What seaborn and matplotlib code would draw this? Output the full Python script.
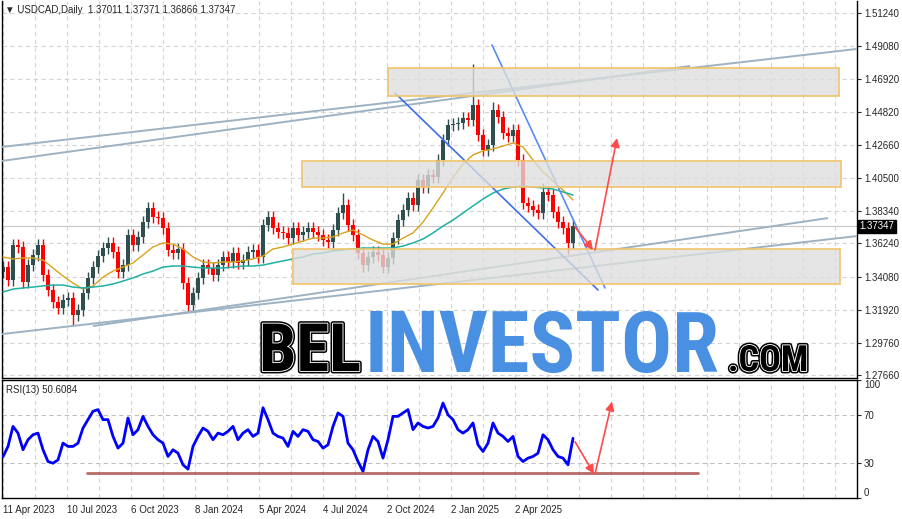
import numpy as np
import seaborn as sns
import matplotlib.pyplot as plt
import matplotlib.patheffects as pe
from matplotlib.patches import Rectangle
from matplotlib.transforms import blended_transform_factory

# chart data
title_text = "▼ USDCAD,Daily  1.37011 1.37371 1.36866 1.37347"
rsi_text = "RSI(13) 50.6084"
last_price = 1.37347

bar_step = 5  # one candle per 5 daily bars
first_open = 1.3440
closes = [
    1.3470, 1.3386, 1.3614, 1.3601, 1.3373, 1.3483, 1.3549, 1.3614, 1.3418, 1.3321,
    1.3243, 1.3204, 1.3256, 1.3269, 1.3158, 1.3191, 1.3301, 1.3399, 1.3470, 1.3542,
    1.3594, 1.3627, 1.3568, 1.3438, 1.3483, 1.3679, 1.3614, 1.3666, 1.3763, 1.3855,
    1.3796, 1.3789, 1.3724, 1.3581, 1.3562, 1.3588, 1.3366, 1.3223, 1.3301, 1.3399,
    1.3483, 1.3464, 1.3418, 1.3483, 1.3536, 1.3503, 1.3562, 1.3497, 1.3516, 1.3568,
    1.3581, 1.3536, 1.3744, 1.3796, 1.3724, 1.3698, 1.3692, 1.3659, 1.3724, 1.3679,
    1.3698, 1.3724, 1.3698, 1.3679, 1.3646, 1.3633, 1.3711, 1.3822, 1.3874, 1.3744,
    1.3679, 1.3562, 1.3483, 1.3536, 1.3568, 1.3549, 1.3470, 1.3529, 1.3659, 1.3776,
    1.3842, 1.3920, 1.3874, 1.4037, 1.3991, 1.4069, 1.4056, 1.4167, 1.4297, 1.4395,
    1.4401, 1.4408, 1.4440, 1.4427, 1.4525, 1.4330, 1.4232, 1.4265, 1.4493, 1.4447,
    1.4343, 1.4323, 1.4362, 1.4167, 1.3887, 1.3868, 1.3842, 1.3822, 1.3959, 1.3939,
    1.3829, 1.3763, 1.3724, 1.3627, 1.3735,
]
wick = 0.004
wick_highs = {68: 1.3950, 94: 1.4793, 98: 1.4545, 108: 1.4017}
wick_lows = {14: 1.3095, 37: 1.3180, 72: 1.3438, 76: 1.3431, 113: 1.3555}

ma_step = 10
ma_fast = [
    1.3536, 1.3523, 1.3529, 1.3529, 1.3516, 1.3464, 1.3412, 1.3366, 1.3327, 1.3347,
    1.3405, 1.3444, 1.3470, 1.3497, 1.3549, 1.3601, 1.3627, 1.3620, 1.3588, 1.3536,
    1.3503, 1.3497, 1.3503, 1.3503, 1.3510, 1.3523, 1.3542, 1.3588, 1.3601, 1.3620,
    1.3640, 1.3659, 1.3659, 1.3666, 1.3692, 1.3711, 1.3679, 1.3646, 1.3620, 1.3620,
    1.3659, 1.3692, 1.3763, 1.3855, 1.3952, 1.4056, 1.4141, 1.4200, 1.4226, 1.4239,
    1.4258, 1.4278, 1.4252, 1.4167, 1.4089, 1.4030, 1.3972, 1.3907,
]
ma_slow = [
    1.3308, 1.3327, 1.3334, 1.3340, 1.3347, 1.3353, 1.3353, 1.3340, 1.3334, 1.3340,
    1.3347, 1.3360, 1.3379, 1.3399, 1.3425, 1.3444, 1.3470, 1.3477, 1.3477, 1.3470,
    1.3464, 1.3464, 1.3464, 1.3470, 1.3477, 1.3477, 1.3483, 1.3497, 1.3510, 1.3523,
    1.3536, 1.3555, 1.3562, 1.3575, 1.3581, 1.3588, 1.3594, 1.3594, 1.3594, 1.3594,
    1.3607, 1.3627, 1.3653, 1.3692, 1.3737, 1.3776, 1.3822, 1.3868, 1.3913, 1.3952,
    1.3978, 1.3991, 1.3998, 1.3991, 1.3985, 1.3978, 1.3959, 1.3939,
]
rsi = [
    35, 43.7, 60.7, 55, 40.9, 49.4, 53.6, 55, 40.9, 30.9,
    29.5, 32.3, 46.5, 43.7, 43.7, 46.5, 59.3, 66.4, 73.5, 74.9,
    66.4, 66.4, 52.2, 42.3, 46.5, 67.8, 53.6, 57.9, 69.2, 60.7,
    53.6, 49.4, 46.5, 35.2, 40.9, 38, 28.1, 24.5, 43.7, 52.2,
    59.3, 56.5, 49.4, 55, 53.6, 56.5, 60.7, 49.4, 55, 57.9,
    52.2, 55, 76.5, 66.4, 55, 52.2, 50.8, 43.7, 56.5, 52.2,
    57.9, 56.5, 49.4, 47.9, 42.3, 45.1, 60.7, 72.1, 69.2, 46.5,
    40.9, 30.9, 22.5, 40.9, 52.2, 47.9, 33.8, 49.4, 69.2, 69.2,
    72.1, 74.9, 57.9, 63.6, 60.7, 59.3, 60.7, 67.8, 80.5, 70.5,
    66.4, 57.9, 55, 57.9, 63.6, 45.1, 39.4, 46.5, 63.6, 55,
    52.2, 47.9, 52.2, 35.2, 30.9, 33.8, 35.2, 38, 53.6, 49.4,
    40.9, 35.2, 33.8, 28.1, 50.6,
]

price_ticks = [1.51240, 1.49080, 1.46920, 1.44820, 1.42660, 1.40500, 1.38340,
               1.36240, 1.34080, 1.31920, 1.29760, 1.27660]
date_bars = [0, 64, 128, 192, 256, 320, 384, 448, 512]
date_labels = ["11 Apr 2023", "10 Jul 2023", "6 Oct 2023", "8 Jan 2024", "5 Apr 2024",
               "4 Jul 2024", "2 Oct 2024", "2 Jan 2025", "2 Apr 2025"]

# zones: bar from, bar to, price low, price high
zones = [(385, 836, 1.4584, 1.4766), (299, 838, 1.3991, 1.4161), (290, 837, 1.3360, 1.3588)]
# trend lines: (bar, price) -> (bar, price)
channel_lines = [((-1, 1.4252), (854, 1.4890)), ((-1, 1.4161), (687, 1.4779)),
                 ((-1, 1.3034), (854, 1.3672)), ((90, 1.3086), (825, 1.3789))]
wedge_lines = [((392, 1.4603), (595, 1.3321)), ((489, 1.4916), (602, 1.3334))]
wedge_colors = ["#3f6fe6", "#5a8cf0"]
price_arrows = [((572, 1.3731), (590, 1.3581)), ((592, 1.3581), (614, 1.4310))]
rsi_support = ((84, 21.3), (695, 21.3))
rsi_arrows = [((572, 47.7), (591, 20.4)), ((592, 20.4), (609, 81.7))]

sns.set_style("white")
plt.rcParams["font.family"] = ["Liberation Sans", "DejaVu Sans"]

W, H = 902, 519
fig = plt.figure(figsize=(W / 100, H / 100), dpi=100)


def px_box(x0, y0, x1, y1):
    return [x0 / W, 1 - y1 / H, (x1 - x0) / W, (y1 - y0) / H]


ax = fig.add_axes(px_box(2, 1, 857, 378))
ax_rsi = fig.add_axes(px_box(2, 380, 857, 498))
grid_kw = dict(color="#d4d4d4", lw=0.8, ls=(0, (4, 3)))

for a in (ax, ax_rsi):
    a.set_xlim(-1, 854)
    a.set_xticks(date_bars)
    a.set_xticks(np.arange(32, 854, 32), minor=True)
    a.grid(True, which="both", axis="x", **grid_kw)
    a.yaxis.tick_right()
    a.tick_params(axis="y", length=3, width=0.8, direction="out", labelsize=7, pad=2)
    a.tick_params(axis="x", which="minor", length=0)
    for s in a.spines.values():
        s.set_color("black")
        s.set_linewidth(1)
    a.set_axisbelow(True)

# main price panel
ax.set_ylim(1.2748, 1.5202)
ax.set_yticks(price_ticks)
ax.set_yticklabels([f"{v:.5f}" for v in price_ticks])
ax.grid(True, axis="y", **grid_kw)
ax.tick_params(axis="x", length=0, labelbottom=False)
ax.spines["top"].set_visible(False)
ax.axhline(last_price, color="#c6c6c6", lw=0.8, zorder=1)

xc = np.arange(len(closes)) * bar_step
c = np.array(closes)
o = np.r_[first_open, c[:-1]]
hi = np.maximum(o, c) + wick
lo = np.minimum(o, c) - wick
for i, v in wick_highs.items():
    hi[i] = v
for i, v in wick_lows.items():
    lo[i] = v
col = np.where(c >= o, "#2f4f4f", "#ff0000")
ax.vlines(xc, lo, hi, colors=col, lw=1, zorder=2)
ax.bar(xc, np.maximum(np.abs(c - o), 0.0008), bottom=np.minimum(o, c), width=4.0,
       color=col, lw=0, zorder=2)

xm = np.arange(len(ma_fast)) * ma_step
sns.lineplot(x=xm, y=ma_fast, ax=ax, color="#d9a21b", lw=1, zorder=3)
sns.lineplot(x=xm, y=ma_slow, ax=ax, color="#1fb0a4", lw=1.1, zorder=3)

for (x0, y0), (x1, y1) in channel_lines:
    ax.plot([x0, x1], [y0, y1], color="#9db2c2", lw=1.4, zorder=3, solid_capstyle="butt")
for ((x0, y0), (x1, y1)), wc in zip(wedge_lines, wedge_colors):
    ax.plot([x0, x1], [y0, y1], color=wc, lw=1.2, zorder=3)

for b0, b1, p0, p1 in zones:
    ax.add_patch(Rectangle((b0, p0), b1 - b0, p1 - p0, facecolor=(0.87, 0.87, 0.87, 0.78),
                           edgecolor="#f0c46a", lw=1.2, zorder=4))

for start, end in price_arrows:
    ax.annotate("", xy=end, xytext=start, zorder=5,
                arrowprops=dict(arrowstyle="-|>", color="#ff4a4a", lw=1.2,
                                mutation_scale=13, shrinkA=0, shrinkB=0))

tr = blended_transform_factory(ax.transAxes, ax.transData)
ax.text(1.003, last_price, "1.37347", transform=tr, color="white", fontsize=7,
        va="center", ha="left", zorder=6,
        bbox=dict(facecolor="black", edgecolor="black", pad=1.2), clip_on=False)

# RSI panel
ax_rsi.set_ylim(0, 100)
ax_rsi.set_yticks([0, 30, 70, 100])
ax_rsi.set_yticklabels(["0", "30", "70", "100"])
ylabs = ax_rsi.get_yticklabels()
ylabs[0].set_va("bottom")
ylabs[3].set_va("top")
for lvl in (30, 70):
    ax_rsi.axhline(lvl, color="#c0c0c0", lw=0.8, ls=(0, (4, 3)))
ax_rsi.set_xticklabels(date_labels)
for lab in ax_rsi.get_xticklabels():
    lab.set_ha("left")
ax_rsi.tick_params(axis="x", which="major", length=3, width=0.8, labelsize=7, pad=2)

xr = np.arange(len(rsi)) * bar_step
sns.lineplot(x=xr, y=rsi, ax=ax_rsi, color="#0000ff", lw=2, zorder=3)
(sx0, sy0), (sx1, sy1) = rsi_support
ax_rsi.plot([sx0, sx1], [sy0, sy1], color="#a8504c", lw=2, alpha=0.85, zorder=3)
for start, end in rsi_arrows:
    ax_rsi.annotate("", xy=end, xytext=start, zorder=5,
                    arrowprops=dict(arrowstyle="-|>", color="#ff4a4a", lw=1.2,
                                    mutation_scale=13, shrinkA=0, shrinkB=0))

fig.text(5 / W, 1 - 10 / H, title_text, fontsize=7, va="center", ha="left")
fig.text(6 / W, 1 - 390 / H, rsi_text, fontsize=7, va="center", ha="left")

# watermark
wm_font = ["Liberation Sans Narrow", "Roboto Condensed", "Liberation Sans"]
outline = [pe.Stroke(linewidth=3.5, foreground="black"),
           pe.Stroke(linewidth=1.3, foreground="white"), pe.Normal()]
fig.text(259 / W, 1 - 371 / H, "BEL", family=wm_font, fontweight="bold", fontsize=48,
         color="black", ha="left", va="baseline", path_effects=outline)
fig.text(365 / W, 1 - 372 / H, "INVESTOR", family=wm_font, fontweight="bold", fontsize=61,
         color="#4a90e2", ha="left", va="baseline")
fig.text(728 / W, 1 - 371 / H, ".COM", family=wm_font, fontweight="bold", fontsize=26,
         color="black", ha="left", va="baseline", path_effects=outline)

fig.savefig("out.png", dpi=100)
